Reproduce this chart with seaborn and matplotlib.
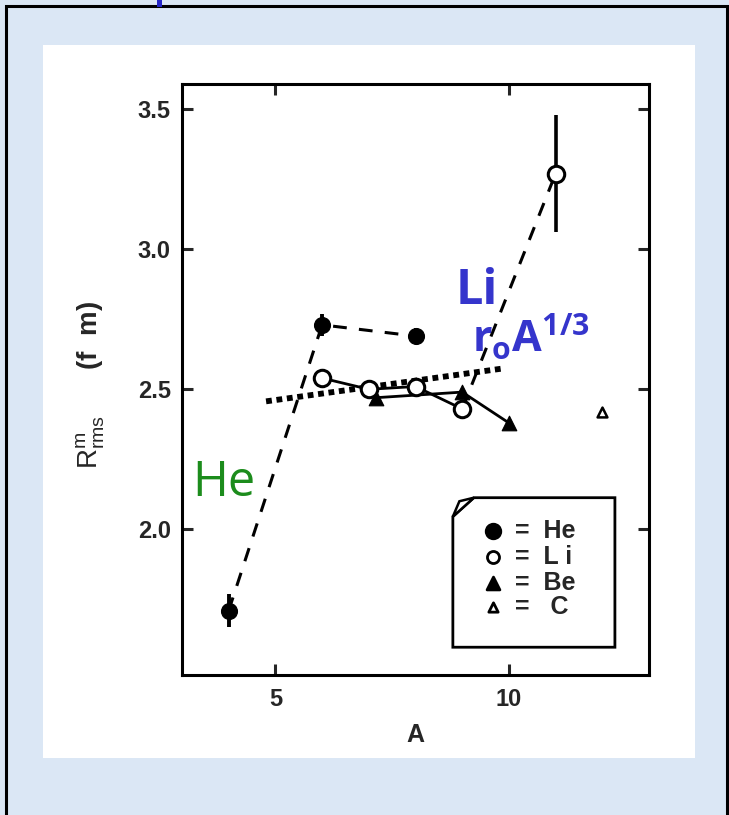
import matplotlib
matplotlib.use('Agg')
import matplotlib.pyplot as plt
import seaborn as sns
from matplotlib.patches import Rectangle, Polygon

# values (A, r.m.s. matter radius in fm)
he_A = [4, 6, 8]
he_R = [1.71, 2.73, 2.69]
he_err = [0.06, 0.04, 0.03]

li_A = [6, 7, 8, 9]
li_R = [2.54, 2.50, 2.51, 2.43]
li11_A = [11]
li11_R = [3.27]
li11_err = [0.21]

be_A = [7.15, 9, 10]
be_R = [2.47, 2.49, 2.38]

c_A = [12]
c_R = [2.42]

# r0 A^1/3 guide line
fit_A = [4.8, 9.9]
fit_R = [2.457, 2.575]

legend_names = ['=  He', '=  L i', '=  Be', '=   C']

sns.set_style('ticks')
plt.rcParams['font.family'] = ['Liberation Sans', 'DejaVu Sans']
plt.rcParams['mathtext.fontset'] = 'custom'
plt.rcParams['mathtext.rm'] = 'Liberation Sans'
plt.rcParams['mathtext.bf'] = 'Open Sans:bold'

fig = plt.figure(figsize=(7.29, 8.15), dpi=100)
fig.patch.set_facecolor('#dbe7f5')

# white slide panel, black frame, small blue mark at the top
fig.add_artist(Rectangle((43 / 729, 57 / 815), 652 / 729, 713 / 815,
                         transform=fig.transFigure, facecolor='white', edgecolor='none', zorder=0))
fig.add_artist(Rectangle((6 / 729, -0.02), 721 / 729, 809 / 815 + 0.02,
                         transform=fig.transFigure, facecolor='none', edgecolor='black', lw=2.2, zorder=5))
fig.add_artist(Rectangle((157 / 729, 808 / 815), 5 / 729, 8 / 815,
                         transform=fig.transFigure, facecolor='#2525c8', edgecolor='none', zorder=6))

ax = fig.add_axes([182 / 729, 140 / 815, 467 / 729, 591 / 815])
ax.set_facecolor('white')

dash = (0, (4.5, 4))

# He: dashed, filled circles with error bars
sns.lineplot(x=he_A, y=he_R, ax=ax, color='k', lw=2.2, linestyle=dash, sort=False)
ax.errorbar(he_A, he_R, yerr=he_err, fmt='none', ecolor='k', elinewidth=2.8, capsize=0)
sns.scatterplot(x=he_A, y=he_R, ax=ax, color='k', marker='o', s=130, edgecolor='k', zorder=4)

# Li: solid for 6-9, dashed up to 11
sns.lineplot(x=li_A, y=li_R, ax=ax, color='k', lw=2.0, sort=False)
sns.lineplot(x=[li_A[-1]] + li11_A, y=[li_R[-1]] + li11_R, ax=ax, color='k', lw=2.2,
             linestyle=dash, sort=False)
ax.errorbar(li11_A, li11_R, yerr=li11_err, fmt='none', ecolor='k', elinewidth=2.6, capsize=0)
sns.scatterplot(x=li_A + li11_A, y=li_R + li11_R, ax=ax, marker='o', s=140,
                facecolor='white', edgecolor='k', linewidth=2.2, zorder=5)

# Be: solid, filled triangles
sns.lineplot(x=be_A, y=be_R, ax=ax, color='k', lw=2.0, sort=False)
sns.scatterplot(x=be_A, y=be_R, ax=ax, color='k', marker='^', s=110, edgecolor='k', zorder=4)

# C: small open triangle
sns.scatterplot(x=c_A, y=c_R, ax=ax, marker='^', s=50, facecolor='white',
                edgecolor='k', linewidth=1.8, zorder=4)

# thick dotted r0 A^1/3 line
sns.lineplot(x=fit_A, y=fit_R, ax=ax, color='k', lw=4.2, linestyle=(0, (1.0, 0.8)), sort=False)

ax.set_xlim(3.0, 13.0)
ax.set_ylim(1.48, 3.59)
ax.set_xticks([5, 10])
ax.set_yticks([2.0, 2.5, 3.0, 3.5])
ax.set_xticklabels(['5', '10'])
ax.set_yticklabels(['2.0', '2.5', '3.0', '3.5'])
ax.tick_params(direction='in', length=8, width=2.2, top=True, right=True,
               labelsize=17, pad=8)
ax.tick_params(axis='x', pad=9)
for lab in ax.get_xticklabels() + ax.get_yticklabels():
    lab.set_fontweight('bold')
for sp in ax.spines.values():
    sp.set_linewidth(2.2)
    sp.set_color('k')

ax.set_xlabel('A', fontsize=18, fontweight='bold', labelpad=9)
ax.set_ylabel(r'$\mathrm{R^{m}_{rms}}$      (f  m)', fontsize=20, fontweight='bold')
ax.yaxis.set_label_coords(-0.16, 0.49)

# hand-written style annotations
ax.text(0.022, 0.303, 'He', transform=ax.transAxes, color='#1c8c1c', fontsize=35,
        family=['Open Sans', 'DejaVu Sans'], va='baseline')
ax.text(0.585, 0.628, 'Li', transform=ax.transAxes, color='#3535cc', fontsize=35,
        fontweight='bold', family=['Open Sans', 'DejaVu Sans'], va='baseline')
ax.text(0.62, 0.545, r'$\mathbf{r_{o}A^{1/3}}$', transform=ax.transAxes, color='#3535cc',
        fontsize=31, va='baseline')

# legend card with folded corner
bx0, bx1, by0, by1 = 0.580, 0.927, 0.047, 0.300
cut = (0.045, 0.032)
card = Polygon([(bx0, by0), (bx1, by0), (bx1, by1), (bx0 + cut[0], by1), (bx0, by1 - cut[1])],
               closed=True, transform=ax.transAxes, facecolor='white', edgecolor='k', lw=2.0, zorder=6)
ax.add_patch(card)
flap = Polygon([(bx0, by1 - cut[1]), (bx0 + cut[0], by1), (bx0 + 0.014, by1 - 0.006)],
               closed=True, transform=ax.transAxes, facecolor='white', edgecolor='k', lw=1.8, zorder=7)
ax.add_patch(flap)

leg_style = [('o', 'k', 110), ('o', 'white', 75), ('^', 'k', 85), ('^', 'white', 45)]
row_y = [0.2437, 0.1997, 0.1557, 0.1151]
for (m, fc, s), name, yy in zip(leg_style, legend_names, row_y):
    ax.scatter([0.666], [yy], transform=ax.transAxes, marker=m, s=s, facecolor=fc,
               edgecolor='k', linewidth=2.0, zorder=8, clip_on=False)
    ax.text(0.712, yy, name, transform=ax.transAxes, fontsize=18, fontweight='bold',
            ha='left', va='center', zorder=8)

fig.savefig('out.png', dpi=100, facecolor=fig.get_facecolor())
